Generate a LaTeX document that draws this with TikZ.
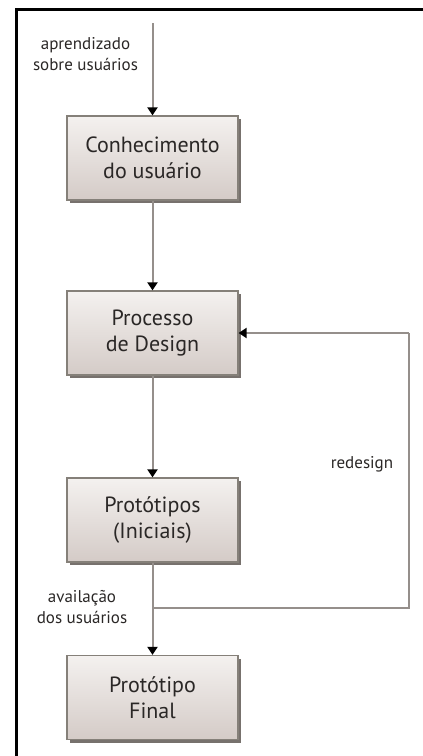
\documentclass[tikz,border=0pt]{standalone}
\usepackage{fontspec}
\setmainfont{PT Sans}
\usetikzlibrary{arrows.meta,shadows}
\definecolor{linegray}{HTML}{958F8B}
\definecolor{boxedge}{HTML}{858079}
\definecolor{boxtop}{HTML}{F4F1EF}
\definecolor{boxbot}{HTML}{D4CBC7}
\definecolor{shadowgray}{HTML}{77716D}
\definecolor{txt}{HTML}{2A2726}
\tikzset{
  stagebox/.style={draw=boxedge, line width=1.3pt, top color=boxtop, bottom color=boxbot,
    minimum width=171pt, minimum height=84pt, align=center, inner sep=0pt,
    font=\fontsize{22}{26}\selectfont, text=txt,
    drop shadow={shadow xshift=3pt, shadow yshift=-3pt, fill=shadowgray, opacity=1}},
  flow/.style={draw=linegray, line width=2pt, -{Triangle[width=10pt,length=8pt,color=black,fill=black]}},
  plain/.style={draw=linegray, line width=2pt},
  lbl/.style={font=\fontsize{17}{21.5}\selectfont, text=txt, align=center, inner sep=0pt}
}
\begin{document}
\begin{tikzpicture}[x=1pt,y=-1pt]
\useasboundingbox (0,0) rectangle (423,756);
\draw[line width=3pt] (16.5,756) -- (16.5,9.5) -- (423,9.5);
\coordinate (start) at (152.5,23);
\node[stagebox] (b1) at (152.5,158) {Conhecimento\\do usuário};
\node[stagebox] (b2) at (152.5,333) {Processo\\de Design};
\node[stagebox] (b3) at (152.5,520) {Protótipos\\(Iniciais)};
\node[stagebox] (b4) at (152.5,697.5) {Protótipo\\Final};
\coordinate (split) at (152.5,608);
\coordinate (cr) at (409,608);
\coordinate (ur) at (409,333);
\draw[flow] (start) -- (b1.north);
\draw[flow] (b1.south) -- (b2.north);
\draw[flow] (b2.south) -- (b3.north);
\draw[flow] (b3.south) -- (b4.north);
\draw[plain] (split) -- (cr) -- (ur);
\draw[flow] (ur) -- (b2.east);
\node[lbl] (l1) at (85.5,54) {aprendizado\\sobre usuários};
\node[lbl] (l2) at (362,464) {redesign};
\node[lbl] (l3) at (82,607) {availação\\dos usuários};
\end{tikzpicture}
\end{document}
